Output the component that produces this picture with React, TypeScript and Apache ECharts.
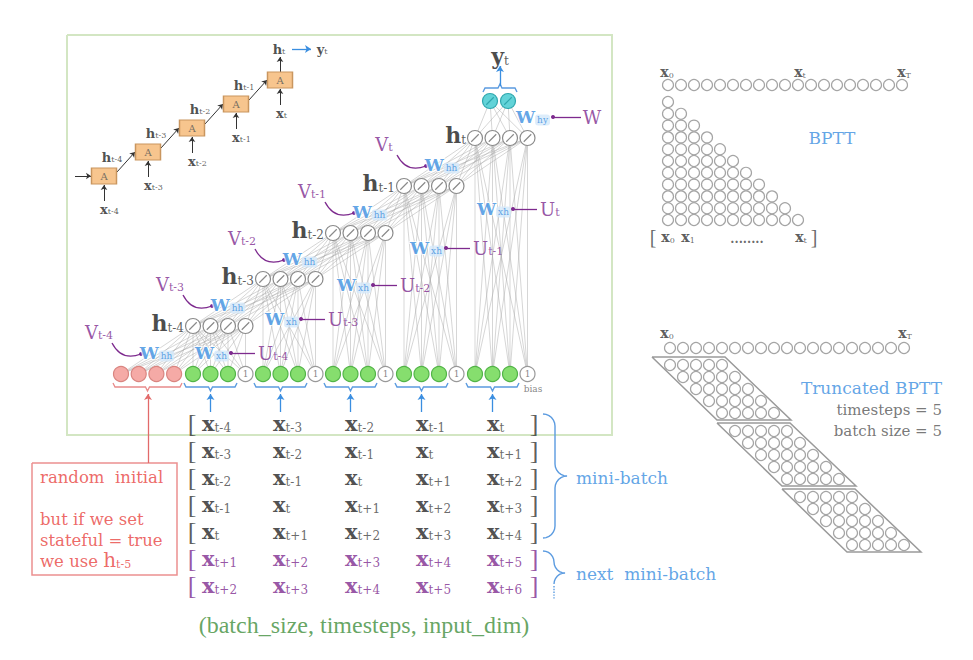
import { useEffect, useRef } from 'react'

import * as echarts from 'echarts'

// ---- data ----
// small folded RNN chain, top left
const chainSteps = ['t-4', 't-3', 't-2', 't-1', 't']
// unrolled network: one hidden layer per time step
const hiddenSteps = ['t-4', 't-3', 't-2', 't-1', 't']
const uSteps = ['t-4', 't-3', 't-2', 't-1', 't']
const vSteps = ['t-4', 't-3', 't-2', 't-1', 't']
const initUnits = 4
const inputUnits = 3 // plus one bias unit
const hiddenUnits = 4
const outputUnits = 2
// input matrix, subscripts of x
const miniBatch = [
  ['t-4', 't-3', 't-2', 't-1', 't'],
  ['t-3', 't-2', 't-1', 't', 't+1'],
  ['t-2', 't-1', 't', 't+1', 't+2'],
  ['t-1', 't', 't+1', 't+2', 't+3'],
  ['t', 't+1', 't+2', 't+3', 't+4'],
]
const nextBatch = [
  ['t+1', 't+2', 't+3', 't+4', 't+5'],
  ['t+2', 't+3', 't+4', 't+5', 't+6'],
]
const noteLines = ['{red|random  initial}', '', '{red|but if we set}', '{red|stateful = true}', '{red|we use }{rm|h}{rs|t-5}']
// BPTT sketches, right
const seqLength = 19
const bpttRows = 11
const truncBlocks = 3
const timesteps = 5
const batchSize = 5

// ---- layout / style ----
const W = 973
const H = 660
const SERIF = '"DejaVu Serif", serif'
const TIMES = '"Liberation Serif", serif'
const BLUE = '#3a8ee0'
const PURPLE = '#7d2a8e'
const RED = '#e8443f'
const SLASH = 'path://M0,10A10,10,0,1,1,20,10A10,10,0,1,1,0,10ZM5,15L15,5'

const chain = { x0: 104, y0: 176, dx: 44, dy: -24 }
const groupX = [193, 263, 333, 404, 475]
const unitDX = 17.5
const inputY = 374
const hiddenY = [326, 279, 233, 186, 138]
const redX0 = 121
const outX0 = 490
const outY = 101
const colX = [202, 273, 345, 416, 487]
const rowY0 = 423
const rowDY = 27
const wHH = [[157, 353], [228, 305], [300, 259], [370, 212], [442, 165]]
const wXH = [[212, 353], [282, 319], [354, 285], [427, 248], [494, 209]]

// main letter / subscript pair of rich styles
const pair = (fs: number, ss: number, color: string, subColor: string, bold = true, family = SERIF) => [
  { fontFamily: family, fontSize: fs, fontWeight: bold ? 'bold' : 'normal', color, lineHeight: fs, verticalAlign: 'bottom' },
  { fontFamily: family, fontSize: ss, color: subColor, lineHeight: Math.round(ss * 0.75), verticalAlign: 'bottom' },
]
const [cm, cs] = pair(13, 8, '#222', '#333')
const [hm, hs] = pair(22, 12, '#1c1c1c', '#333')
const [xm, xs] = pair(21, 12, '#222', '#444')
const [pm, ps] = pair(21, 12, PURPLE, PURPLE)
const [um, us] = pair(18, 11, PURPLE, PURPLE, false)
const [rm, rs] = pair(20, 11, RED, RED, false)
const [sm, ss] = pair(14, 8, '#333', '#444')

const rich: any = {
  A: { fontFamily: SERIF, fontSize: 10, color: '#555' },
  cm, cs, hm, hs, xm, xs, pm, ps, um, us, rm, rs, sm, ss,
  wm: { fontFamily: SERIF, fontSize: 17, fontWeight: 'bold', color: BLUE, lineHeight: 17, verticalAlign: 'bottom', textBorderColor: '#fff', textBorderWidth: 2 },
  ws: { fontFamily: SERIF, fontSize: 9, color: BLUE, backgroundColor: '#d4e8fa', borderRadius: 3, padding: [1, 2], lineHeight: 9, verticalAlign: 'bottom' },
  br: { fontFamily: TIMES, fontSize: 26, color: '#333' },
  bp: { fontFamily: TIMES, fontSize: 26, color: PURPLE },
  red: { fontFamily: SERIF, fontSize: 16.5, color: RED, verticalAlign: 'bottom', lineHeight: 20 },
  blue: { fontFamily: SERIF, fontSize: 17, color: BLUE },
  big: { fontFamily: SERIF, fontSize: 17, color: BLUE },
  grey: { fontFamily: SERIF, fontSize: 15, color: '#555' },
  green: { fontFamily: TIMES, fontSize: 24, color: '#3e8e3a' },
  bias: { fontFamily: SERIF, fontSize: 9, color: '#666' },
  sb: { fontFamily: TIMES, fontSize: 20, color: '#444' },
  dots: { fontFamily: SERIF, fontSize: 12, fontWeight: 'bold', color: '#444' },
}

const txt = (x: number, y: number, s: string, align = 'center') => ({
  name: s,
  value: [x, y],
  label: { align, verticalAlign: 'middle' },
})

const range = (n: number) => Array.from({ length: n }, (_, i) => i)
const full = (a: number[][], b: number[][]) => a.flatMap((p) => b.map((q) => [p, q]))

// curly brace opening left, tip at right
const curly = (x: number, y1: number, y2: number, w: number, halfOnly = false) => {
  const ym = (y1 + y2) / 2
  const r = Math.min(w / 2, (ym - y1) / 2)
  const pts: number[][] = []
  const n = 6
  for (let i = 0; i <= n; i++) {
    const a = ((Math.PI / 2) * i) / n
    pts.push([x + r * Math.sin(a), y1 + r - r * Math.cos(a)])
  }
  for (let i = 0; i <= n; i++) {
    const a = ((Math.PI / 2) * i) / n
    pts.push([x + 2 * r - r * Math.cos(a), ym - r + r * Math.sin(a)])
  }
  for (let i = 0; i <= n; i++) {
    const a = ((Math.PI / 2) * i) / n
    pts.push([x + 2 * r - r * Math.sin(a), ym + r - r * Math.cos(a)])
  }
  if (!halfOnly) {
    for (let i = 0; i <= n; i++) {
      const a = ((Math.PI / 2) * i) / n
      pts.push([x + r * Math.cos(a), y2 - r + r * Math.sin(a)])
    }
  }
  return pts
}
// flat brace under a group, tip pointing down
const underBrace = (x1: number, x2: number, y: number) => {
  const xm = (x1 + x2) / 2
  return [[x1, y - 4], [x1 + 2, y], [xm - 2, y], [xm, y + 4], [xm + 2, y], [x2 - 2, y], [x2, y - 4]]
}

export default function App() {
  const main = useRef<HTMLDivElement>(null)
  useEffect(() => {
    // positions of units
    const chainPts = chainSteps.map((_, k) => [chain.x0 + k * chain.dx, chain.y0 + k * chain.dy])
    const redPts = range(initUnits).map((j) => [redX0 + j * 17.7, inputY])
    const inPts = groupX.map((gx) => range(inputUnits + 1).map((j) => [gx + j * unitDX, inputY]))
    const hidPts = groupX.map((gx, g) => range(hiddenUnits).map((j) => [gx + j * unitDX, hiddenY[g]]))
    const outPts = range(outputUnits).map((j) => [outX0 + j * 18, outY])

    const links: number[][][] = []
    links.push(...full(redPts, hidPts[0]))
    groupX.forEach((_, g) => {
      links.push(...full(inPts[g], hidPts[g]))
      if (g > 0) links.push(...full(hidPts[g - 1], hidPts[g]))
    })
    links.push(...full(hidPts[4], outPts))

    // texts
    const texts: any[] = []
    chainPts.forEach(([cx, cy], k) => {
      texts.push(txt(cx, cy, '{A|A}'))
      texts.push(txt(cx - 4, cy + 33, `{cm|x}{cs|${chainSteps[k]}}`, 'left'))
      if (k > 0) texts.push(txt(cx - 36, cy + 5, `{cm|h}{cs|${chainSteps[k - 1]}}`))
    })
    const last = chainPts[chainPts.length - 1]
    texts.push(txt(last[0] - 1, last[1] - 31, `{cm|h}{cs|${chainSteps[4]}}`))
    texts.push(txt(last[0] + 42, last[1] - 31, `{cm|y}{cs|${chainSteps[4]}}`))

    hiddenSteps.forEach((s, g) => {
      texts.push(txt(groupX[g] - 9, hiddenY[g] - 3, `{hm|h}{hs|${s}}`, 'right'))
      texts.push(txt(wHH[g][0], wHH[g][1], '{wm|W}{ws|hh}'))
      texts.push(txt(wXH[g][0], wXH[g][1], '{wm|W}{ws|xh}'))
      texts.push(txt(wXH[g][0] + 46, wXH[g][1], `{um|U}{us|${uSteps[g]}}`, 'left'))
      texts.push(txt(wHH[g][0] - 58, wHH[g][1] - 21, `{um|V}{us|${vSteps[g]}}`))
      texts.push(txt(groupX[g] + 3 * unitDX, inputY, '{bias|1}'))
    })
    texts.push(txt(533, 117, '{wm|W}{ws|hy}'))
    texts.push(txt(592, 117, '{um|W}'))
    texts.push(txt(500, 56, '{hm|y}{hs|t}'))
    texts.push(txt(533, 389, '{bias|bias}'))

    const rows = [...miniBatch.map((r) => [r, 0]), ...nextBatch.map((r) => [r, 1])] as [string[], number][]
    rows.forEach(([r, purple], i) => {
      const y = rowY0 + i * rowDY
      const m = purple ? 'pm' : 'xm'
      const s = purple ? 'ps' : 'xs'
      const b = purple ? 'bp' : 'br'
      texts.push(txt(192, y, `{${b}|[}`))
      texts.push(txt(534, y, `{${b}|]}`))
      r.forEach((sub, c) => texts.push(txt(colX[c], y, `{${m}|x}{${s}|${sub}}`, 'left')))
    })
    noteLines.forEach((l, i) => {
      if (l) texts.push(txt(40, 476 + i * 21, l, 'left'))
    })
    texts.push(txt(576, 478, '{blue|mini-batch}', 'left'))
    texts.push(txt(576, 574, '{blue|next  mini-batch}', 'left'))
    texts.push(txt(364, 625, '{green|(batch_size, timesteps, input_dim)}'))

    // BPTT labels
    texts.push(txt(667, 72, '{sm|x}{ss|0}'))
    texts.push(txt(800, 72, '{sm|x}{ss|t}'))
    texts.push(txt(904, 72, '{sm|x}{ss|T}'))
    texts.push(txt(832, 138, '{big|BPTT}'))
    texts.push(txt(653, 237, '{sb|[}'))
    texts.push(txt(668, 237, '{sm|x}{ss|0}'))
    texts.push(txt(688, 237, '{sm|x}{ss|1}'))
    texts.push(txt(747, 239, '{dots|........}'))
    texts.push(txt(801, 237, '{sm|x}{ss|t}'))
    texts.push(txt(814, 237, '{sb|]}'))
    texts.push(txt(667, 333, '{sm|x}{ss|0}'))
    texts.push(txt(905, 333, '{sm|x}{ss|T}'))
    texts.push(txt(942, 388, '{big|Truncated BPTT}', 'right'))
    texts.push(txt(942, 410, `{grey|timesteps = ${timesteps}}`, 'right'))
    texts.push(txt(942, 431, `{grey|batch size = ${batchSize}}`, 'right'))

    // BPTT circles
    const seqTop = range(seqLength).map((i) => [668 + i * 13, 85])
    const tri = range(bpttRows).flatMap((r) => range(r + 1).map((c) => [668 + c * 13, 102 + r * 11.8]))
    const seqTrunc = range(seqLength).map((i) => [670 + i * 13, 348])
    const blocks = range(truncBlocks).flatMap((b) =>
      range(timesteps).flatMap((r) => range(batchSize).map((k) => [670 + (b * timesteps + r + k) * 13, 365 + b * 66 + r * 12])),
    )
    const paras = range(truncBlocks).map((b) => {
      const xs = 670 + b * timesteps * 13
      const yt = 357 + b * 66
      return [[xs - 18, yt], [xs + 55, yt], [xs + 121, yt + 63], [xs + 47, yt + 63], [xs - 18, yt]]
    })

    // arrows
    const blackArrows: number[][][] = [[[75, chain.y0], [chain.x0 - 13, chain.y0]]]
    chainPts.forEach(([cx, cy], k) => {
      blackArrows.push([[cx, cy + 25], [cx, cy + 9]])
      if (k < chainPts.length - 1) blackArrows.push([[cx + 13, cy - 4], [chainPts[k + 1][0] - 13, chainPts[k + 1][1]]])
    })
    blackArrows.push([[last[0], last[1] - 8], [last[0], last[1] - 23]])
    const blueArrows: number[][][] = [[[last[0] + 12, last[1] - 31], [last[0] + 31, last[1] - 31]], [[500, 86], [500, 66]]]
    const braces: number[][][] = [[[483, 92], [485, 88], [498, 88], [500, 84], [502, 88], [515, 88], [517, 92]]]
    groupX.forEach((gx) => {
      const mid = gx + unitDX
      blueArrows.push([[mid, 412], [mid, 394]])
      braces.push(underBrace(gx - 9, gx + 2 * unitDX + 9, 387))
    })
    braces.push(curly(543, 414, 538, 24))
    braces.push(curly(543, 551, 595, 22, true))
    const purpleArrows: number[][][] = [[[581, 117], [553, 117]]]
    const purpleCurves: number[][][] = []
    groupX.forEach((_, g) => {
      purpleArrows.push([[wXH[g][0] + 43, wXH[g][1]], [wXH[g][0] + 19, wXH[g][1]]])
      purpleCurves.push([[wHH[g][0] - 45, wHH[g][1] - 10], [wHH[g][0] - 16, wHH[g][1] + 1]])
    })

    // polylines (frames, braces, links)
    const lines = (data: number[][][], color: string, width: number, extra: any = {}) => ({
      type: 'lines',
      coordinateSystem: 'cartesian2d',
      polyline: true,
      silent: true,
      data: data.map((c) => ({ coords: c })),
      lineStyle: { color, width, opacity: 1, ...(extra.lineStyle || {}) },
      z: extra.z || 3,
    })
    // two-point arrows, end symbols only work without polyline
    const arrows = (data: number[][][], color: string, width: number, end: string, size: number, curveness = 0) => ({
      type: 'lines',
      coordinateSystem: 'cartesian2d',
      polyline: false,
      silent: true,
      data: data.map((c) => ({ coords: c })),
      lineStyle: { color, width, opacity: 1, curveness },
      symbol: ['none', end],
      symbolSize: size,
      z: 4,
    })
    const dots = (data: number[][], size: number, color: string, border: string, symbol = 'circle', z = 5) => ({
      type: 'scatter',
      data,
      symbol,
      symbolSize: size,
      silent: true,
      itemStyle: { color, borderColor: border, borderWidth: 1.2, opacity: 1 },
      z,
    })

    const option = {
      animation: false,
      backgroundColor: '#fff',
      grid: { left: 0, right: 0, top: 0, bottom: 0 },
      xAxis: { type: 'value', min: 0, max: W, show: false },
      yAxis: { type: 'value', min: 0, max: H, inverse: true, show: false },
      series: [
        lines([[[67, 35], [612, 35], [612, 435], [67, 435], [67, 35]]], '#d3e6c3', 2, { z: 1 }),
        lines([[[32, 463], [177, 463], [177, 575], [32, 575], [32, 463]]], '#ec9090', 1.5, { z: 1 }),
        lines(links, '#a8a8a8', 0.8, { z: 2, lineStyle: { opacity: 0.6 } }),
        lines([underBrace(113, 182, 387)], '#e88a8a', 1.3),
        arrows([[[148, 463], [148, 394]]], '#e26a6a', 1.3, 'arrow', 6),
        lines(braces, '#5b9be0', 1.4),
        lines([[[554, 586], [554, 600]]], '#5b9be0', 1.4, { lineStyle: { type: 'dotted' } }),
        arrows(blackArrows, '#333', 1, 'arrow', 5),
        arrows(blueArrows, BLUE, 1.3, 'arrow', 6),
        arrows(purpleArrows, PURPLE, 1.3, 'circle', 4),
        arrows(purpleCurves, PURPLE, 1.3, 'circle', 4, -0.45),
        lines(paras, '#9a9a9a', 1.5),
        dots(chainPts, [25, 16] as any, '#f7c58e', '#c9965f', 'rect'),
        dots(redPts, 15, '#f5aaa6', '#d98580'),
        dots(inPts.flatMap((g) => g.slice(0, inputUnits)), 15, '#86de6e', '#52b447'),
        dots(inPts.map((g) => g[inputUnits]), 15, '#fff', '#999'),
        dots(hidPts.flat(), 15, '#fff', '#8a8a8a', SLASH),
        dots(outPts, 15, '#62d3d8', '#2fa7ae', SLASH),
        dots([...seqTop, ...tri, ...seqTrunc, ...blocks], 11, '#fff', '#a5a5a5', 'circle', 4),
        {
          type: 'scatter',
          data: texts,
          symbolSize: 0,
          silent: true,
          z: 10,
          label: {
            show: true,
            position: 'inside',
            formatter: (p: any) => p.name,
            rich,
          },
        },
      ],
    }
    const myCharts = echarts.init(main.current, null, { renderer: 'svg' })
    myCharts.setOption(option as any)
    return () => {
      myCharts.dispose()
    }
  }, [])
  return (
    <>
      <div ref={main} style={{ position: 'absolute', left: 0, top: 0, width: W, height: H, background: '#fff' }}></div>
    </>
  )
}
